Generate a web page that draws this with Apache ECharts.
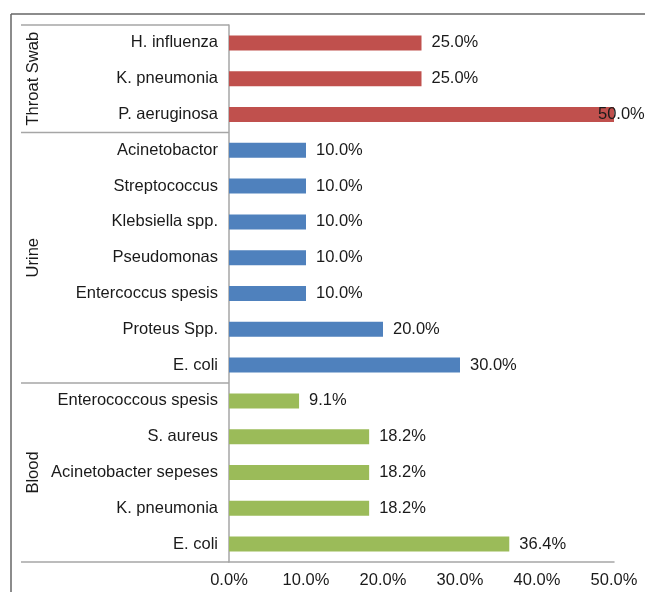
<!DOCTYPE html>
<html>
<head>
<meta charset="utf-8">
<script src="https://cdn.jsdelivr.net/npm/echarts@6/dist/echarts.min.js"></script>
<style>
html,body{margin:0;padding:0;background:#fff;}
#main{width:645px;height:592px;}
</style>
</head>
<body>
<div id="main"></div>
<script>
// Data
const categories = ['H. influenza','K. pneumonia','P. aeruginosa',
  'Acinetobactor','Streptococcus','Klebsiella spp.','Pseudomonas','Entercoccus spesis','Proteus Spp.','E. coli',
  'Enterococcous spesis','S. aureus','Acinetobacter sepeses','K. pneumonia','E. coli'];
const values = [25.0,25.0,50.0, 10.0,10.0,10.0,10.0,10.0,20.0,30.0, 9.1,18.2,18.2,18.2,36.4];
const groupNames = ['Throat Swab','Urine','Blood'];
const groupSizes = [3,7,5];
const groupColors = ['#C0504D','#4F81BD','#9BBB59'];
const xTicks = [0,10,20,30,40,50];

const FONT = 'Liberation Sans, Arial, sans-serif';
const FS = 16.5;
const chart = echarts.init(document.getElementById('main'), null, {renderer:'canvas'});

// group index for each category
const groupOf = [];
groupSizes.forEach((n,g)=>{ for(let i=0;i<n;i++) groupOf.push(g); });

const seriesData = values.map((v,i)=>{
  const d = {value: v, itemStyle:{color: groupColors[groupOf[i]]}};
  if (v >= xTicks[xTicks.length-1]) d.label = {offset:[-26,0]};
  return d;
});

chart.setOption({
  animation:false,
  backgroundColor:'#fff',
  grid:{left:229, right:31, top:25, bottom:30, containLabel:false},
  xAxis:{
    type:'value', min:xTicks[0], max:xTicks[xTicks.length-1], interval:10,
    axisLine:{show:true, lineStyle:{color:'#a6a6a6', width:1.5}},
    axisTick:{show:false},
    splitLine:{show:false},
    axisLabel:{formatter:v=>v.toFixed(1)+'%', color:'#1a1a1a', fontSize:FS, fontFamily:FONT, margin:10}
  },
  yAxis:{
    type:'category', inverse:true,
    data: categories.map((c,i)=>String(i)),
    axisLine:{show:true, lineStyle:{color:'#a6a6a6', width:1.5}},
    axisTick:{show:false},
    splitLine:{show:false},
    axisLabel:{formatter:(v)=>categories[+v], color:'#1a1a1a', fontSize:FS, fontFamily:FONT, margin:11, interval:0}
  },
  series:[{
    type:'bar', barWidth:15,
    data: seriesData,
    label:{show:true, position:'right', distance:10, color:'#1a1a1a', fontSize:FS, fontFamily:FONT,
      formatter:p=>p.value.toFixed(1)+'%'}
  }]
});

// decorations: frame, group separators, group labels (computed from axis)
const half = (chart.convertToPixel({yAxisIndex:0}, '1') - chart.convertToPixel({yAxisIndex:0}, '0'))/2;
const axisX = chart.convertToPixel({xAxisIndex:0}, 0);
const graphics = [];
graphics.push({type:'line', shape:{x1:11,y1:14,x2:645,y2:14}, style:{stroke:'#666', lineWidth:1.5}});
graphics.push({type:'line', shape:{x1:11,y1:14,x2:11,y2:592}, style:{stroke:'#666', lineWidth:1.5}});
let start = 0;
const bounds = [];
groupSizes.forEach((n,g)=>{
  const yTop = chart.convertToPixel({yAxisIndex:0}, String(start)) - half;
  const yBot = chart.convertToPixel({yAxisIndex:0}, String(start+n-1)) + half;
  bounds.push(yTop);
  if (g===groupSizes.length-1) bounds.push(yBot);
  graphics.push({type:'text', x:33, y:(yTop+yBot)/2, rotation:Math.PI/2,
    style:{text:groupNames[g], fill:'#1a1a1a', font:FS+'px '+FONT, align:'center', verticalAlign:'middle'}});
  start += n;
});
bounds.forEach(y=>{
  graphics.push({type:'line', shape:{x1:21,y1:y,x2:axisX,y2:y}, style:{stroke:'#a6a6a6', lineWidth:1.5}});
});
chart.setOption({graphic:graphics});
</script>
</body>
</html>
